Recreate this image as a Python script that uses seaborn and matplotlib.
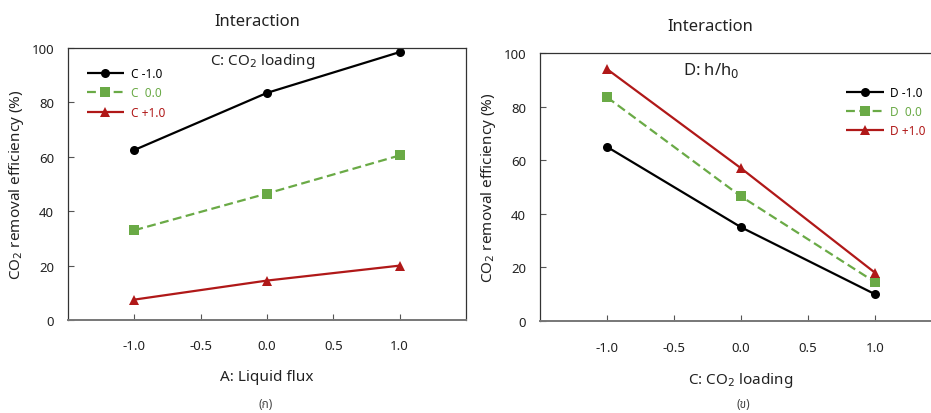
import matplotlib
matplotlib.use("Agg")
import matplotlib.pyplot as plt
import seaborn as sns
import pandas as pd

levels = [-1.0, 0.0, 1.0]

# Panel (a): effect of A (liquid flux) at levels of C (CO2 loading)
left_series = ["C -1.0", "C  0.0", "C +1.0"]
left_c_m1 = [62.5, 83.5, 98.5]
left_c_0 = [33.0, 46.5, 60.5]
left_c_p1 = [7.5, 14.5, 20.0]

# Panel (b): effect of C (CO2 loading) at levels of D (h/h0)
right_series = ["D -1.0", "D  0.0", "D +1.0"]
right_d_m1 = [65.0, 35.0, 10.0]
right_d_0 = [83.5, 46.5, 14.5]
right_d_p1 = [94.0, 57.0, 18.0]

xticks = [-1.0, -0.5, 0.0, 0.5, 1.0]
yticks = [0, 20, 40, 60, 80, 100]

colors = ["#000000", "#6aaa46", "#b01818"]
markers = ["o", "s", "^"]
dashes = [(1, 0), (4, 2), (1, 0)]

sns.set_theme(style="white")
plt.rcParams["font.family"] = ["Noto Sans", "Noto Sans Thai", "DejaVu Sans"]

def make_df(series, vals):
    rows = []
    for name, v in zip(series, vals):
        for x, y in zip(levels, v):
            rows.append({"x": x, "y": y, "s": name})
    return pd.DataFrame(rows)

fig = plt.figure(figsize=(9.31, 4.14), dpi=100)
ax1 = fig.add_axes([0.073, 0.2246, 0.4275, 0.657])
ax2 = fig.add_axes([0.580, 0.222, 0.432, 0.6475])

df1 = make_df(left_series, [left_c_m1, left_c_0, left_c_p1])
df2 = make_df(right_series, [right_d_m1, right_d_0, right_d_p1])

for ax, df, series in [(ax1, df1, left_series), (ax2, df2, right_series)]:
    sns.lineplot(data=df, x="x", y="y", hue="s", style="s",
                 palette=dict(zip(series, colors)),
                 markers=dict(zip(series, markers)),
                 dashes=dict(zip(series, dashes)),
                 markersize=6.5, linewidth=1.6, markeredgewidth=0,
                 ax=ax, legend=True)
    ax.set_xlim(-1.5, 1.5)
    ax.set_ylim(0, 100)
    ax.set_xticks(xticks)
    ax.set_xticklabels([f"{t:.1f}" for t in xticks])
    ax.set_yticks(yticks)
    ax.set_ylabel("CO$_2$ removal efficiency (%)", fontsize=11, color="#222222", labelpad=4)
    ax.tick_params(axis="both", direction="in", length=4, width=0.8, color="#555555",
                   labelsize=9.5, labelcolor="#222222", left=True, bottom=True)
    ax.tick_params(axis="x", pad=14)
    ax.tick_params(axis="y", pad=10)
    for sp in ax.spines.values():
        sp.set_color("#333333")
        sp.set_linewidth(0.9)
    ax.spines["bottom"].set_color("#777777")
    ax.spines["bottom"].set_linewidth(1.4)
    ax.grid(False)

ax1.set_xlabel("A: Liquid flux", fontsize=11, color="#222222", labelpad=12)
ax2.set_xlabel("C: CO$_2$ loading", fontsize=11, color="#222222", labelpad=12)

leg1 = ax1.legend(loc="upper left", bbox_to_anchor=(0.02, 0.97), frameon=False,
                  fontsize=8.5, handlelength=3.2, labelspacing=0.55, handletextpad=0.6)
leg2 = ax2.legend(loc="upper right", bbox_to_anchor=(0.985, 0.915), frameon=False,
                  fontsize=8.5, handlelength=3.2, labelspacing=0.5, handletextpad=0.5)
for leg in (leg1, leg2):
    for txt, c in zip(leg.get_texts(), colors):
        txt.set_color(c)

ax1.text(0.49, 0.955, "C: CO$_2$ loading", transform=ax1.transAxes, ha="center", va="center",
         fontsize=11, color="#222222")
ax2.text(0.425, 0.94, "D: h/h$_0$", transform=ax2.transAxes, ha="center", va="center",
         fontsize=12, color="#222222")

fig.text(257 / 931, 1 - 22 / 414, "Interaction", ha="center", va="center", fontsize=12, color="#222222")
fig.text(710 / 931, 1 - 27 / 414, "Interaction", ha="center", va="center", fontsize=12, color="#222222")
fig.text(266 / 931, 1 - 405 / 414, "(ก)", ha="center", va="center", fontsize=8.5, color="#444444",
         family=["Noto Sans Thai", "Noto Sans", "DejaVu Sans"])
fig.text(743 / 931, 1 - 405 / 414, "(ข)", ha="center", va="center", fontsize=8.5, color="#444444",
         family=["Noto Sans Thai", "Noto Sans", "DejaVu Sans"])

fig.savefig("out.png", dpi=100)
